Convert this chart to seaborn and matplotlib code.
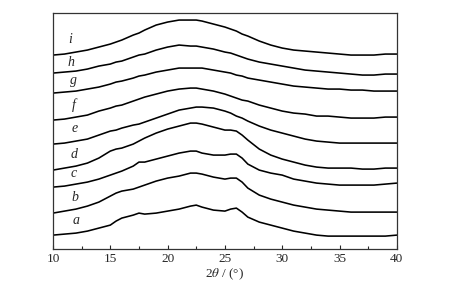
import matplotlib
matplotlib.use("Agg")
import matplotlib.pyplot as plt
import seaborn as sns
import pandas as pd
from matplotlib.ticker import MultipleLocator

# 2theta positions (deg)
two_theta = [10, 11, 12, 13, 14, 15, 15.5, 16, 17, 17.5, 18, 19,
             20, 21, 22, 22.5, 23, 24, 25, 25.5, 26, 26.5, 27, 28,
             29, 30, 31, 32, 33, 34, 35, 36, 37, 38, 39, 40]

# stacked XRD traces (arbitrary intensity, offsets included)
a = [14, 15, 16, 18, 21, 24, 28, 31, 34, 36, 35, 36,
     38, 40, 43, 44, 42, 39, 38, 40, 41, 37, 32, 27,
     24, 21, 18, 16, 14, 13, 13, 13, 13, 13, 13, 14]
b = [36, 38, 40, 43, 47, 53, 56, 58, 60, 62, 64, 68,
     71, 73, 76, 76, 75, 72, 70, 71, 71, 67, 61, 54,
     50, 47, 44, 42, 40, 39, 38, 37, 37, 37, 37, 37]
c = [62, 63, 65, 67, 70, 74, 76, 78, 83, 87, 87, 90,
     93, 96, 98, 98, 96, 94, 94, 95, 95, 91, 85, 79,
     76, 74, 70, 68, 66, 65, 64, 64, 64, 64, 65, 66]
d = [79, 81, 83, 86, 91, 98, 100, 101, 105, 108, 111, 116,
     120, 123, 126, 126, 125, 122, 119, 119, 118, 114, 109, 100,
     94, 90, 87, 84, 82, 81, 81, 81, 80, 80, 81, 81]
e = [105, 106, 108, 110, 114, 118, 119, 121, 124, 125, 127, 131,
     135, 139, 141, 142, 142, 141, 138, 136, 133, 131, 128, 123,
     119, 116, 113, 110, 108, 107, 106, 106, 106, 106, 106, 106]
f = [129, 130, 132, 134, 138, 141, 143, 144, 148, 150, 152, 155,
     158, 160, 161, 161, 160, 158, 155, 153, 151, 149, 148, 144,
     141, 138, 136, 135, 133, 133, 132, 131, 131, 131, 132, 132]
g = [156, 157, 158, 160, 162, 165, 167, 168, 171, 173, 174, 177,
     179, 181, 181, 181, 181, 179, 177, 176, 174, 173, 171, 169,
     167, 165, 163, 162, 161, 160, 160, 159, 159, 158, 158, 158]
h = [176, 177, 178, 180, 183, 185, 187, 188, 192, 194, 195, 199,
     202, 204, 203, 203, 202, 200, 197, 196, 194, 192, 190, 187,
     185, 183, 181, 179, 178, 177, 176, 175, 174, 174, 175, 175]
i = [194, 195, 197, 199, 202, 205, 207, 209, 214, 216, 219, 224,
     227, 229, 229, 229, 228, 225, 222, 220, 218, 215, 213, 208,
     204, 201, 199, 198, 197, 196, 195, 194, 194, 194, 195, 195]

names = ["a", "b", "c", "d", "e", "f", "g", "h", "i"]
traces = [a, b, c, d, e, f, g, h, i]
# where each curve letter sits
label_x = [12.0, 11.9, 11.8, 11.8, 11.9, 11.8, 11.8, 11.6, 11.5]
label_y = [29, 52, 76, 95, 121, 144, 169, 187, 210]

rows = []
for name, ys in zip(names, traces):
    for x, y in zip(two_theta, ys):
        rows.append({"sample": name, "two_theta": x, "intensity": y})
df = pd.DataFrame(rows)

sns.set_theme(style="white")
plt.rcParams["font.family"] = ["Liberation Serif", "DejaVu Serif"]
plt.rcParams["mathtext.fontset"] = "stix"

fig = plt.figure(figsize=(4.53, 2.90), dpi=100)
ax = fig.add_axes([0.117, 0.141, 0.759, 0.814])

sns.lineplot(data=df, x="two_theta", y="intensity", hue="sample",
             palette={n: "black" for n in names}, linewidth=1.15,
             legend=False, ax=ax)

for name, lx, ly in zip(names, label_x, label_y):
    ax.text(lx, ly, name, fontsize=10, style="italic", ha="center", va="center")

ax.set_xlim(10, 40)
ax.set_ylim(0, 236)
ax.set_yticks([])
ax.set_ylabel("")
ax.xaxis.set_major_locator(MultipleLocator(5))
ax.xaxis.set_minor_locator(MultipleLocator(2.5))
ax.tick_params(axis="x", which="major", direction="in", length=3, width=0.8,
               labelsize=9.5, pad=3, bottom=True)
ax.tick_params(axis="x", which="minor", direction="in", length=2, width=0.8,
               bottom=True)
ax.set_xlabel("2$\\theta$ / (°)", fontsize=9.5, labelpad=1)
for sp in ax.spines.values():
    sp.set_color("#333333")
    sp.set_linewidth(0.9)

fig.savefig("out.png", dpi=100)
